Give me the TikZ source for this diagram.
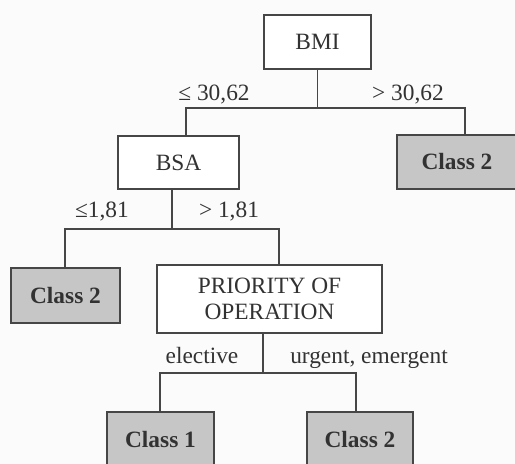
\documentclass[tikz,border=0pt]{standalone}
\usepackage{fontspec}
\setmainfont{Liberation Serif}
\usepackage{tikz}

\definecolor{boxgray}{RGB}{198,198,198}
\definecolor{linegray}{RGB}{70,70,70}
\definecolor{inkgray}{RGB}{50,50,50}
\definecolor{paper}{RGB}{251,251,251}
\newcommand{\pxu}{0.02cm}

\tikzset{
  test/.style={draw=linegray,line width=0.8pt,fill=white,text=inkgray,align=center,inner sep=0pt},
  leaf/.style={draw=linegray,line width=0.8pt,fill=boxgray,text=inkgray,font=\fontsize{13.3}{14.5}\selectfont\bfseries,inner sep=0pt},
  cond/.style={text=inkgray,anchor=base,inner sep=0pt},
  tree/.style={draw=linegray,line width=0.8pt},
  wh/.style 2 args={minimum width=#1*\pxu,minimum height=#2*\pxu}
}

\begin{document}
\begin{tikzpicture}[x=0.02cm,y=-0.02cm,font=\fontsize{13.3}{14.5}\selectfont]
\clip (0,0) rectangle (515,464);
\fill[paper] (0,0) rectangle (515,464);
\node[test,wh={107}{54}] (bmi) at (317.5,42) {BMI};
\node[test,wh={121}{53}] (bsa) at (178.5,162.5) {BSA};
\node[leaf,wh={120}{54}] (cright) at (457,162) {Class 2};
\node[leaf,wh={109}{55}] (cleft) at (65.5,295.5) {Class 2};
\node[test,wh={225}{68}] (prio) at (269.5,299) {PRIORITY OF\\OPERATION};
\node[leaf,wh={107}{55}] (cone) at (160.5,439.5) {Class 1};
\node[leaf,wh={106}{55}] (ctwo) at (360,439.5) {Class 2};
\node[cond] (le1) at (214,100) {≤ 30,62};
\node[cond] (gt1) at (408,100) {> 30,62};
\node[cond] (le2) at (102,217) {≤1,81};
\node[cond] (gt2) at (229,217) {> 1,81};
\node[cond] (elec) at (202,363) {elective};
\node[cond] (urg) at (369,363) {urgent, emergent};
\coordinate (k1) at (186,108);
\coordinate (k2) at (465,108);
\coordinate (m0) at (172,229);
\coordinate (m1) at (65,229);
\coordinate (m2) at (279,229);
\coordinate (n0) at (263,373);
\coordinate (n1) at (160,373);
\coordinate (n2) at (356,373);
\draw[tree] (bmi.south) -- (bmi.south |- k1);
\draw[tree] (k1 |- bsa.north) -- (k1) -- (k2) -- (k2 |- cright.north);
\draw[tree] (m0 |- bsa.south) -- (m0);
\draw[tree] (m1 |- cleft.north) -- (m1) -- (m2) -- (m2 |- prio.north);
\draw[tree] (n0 |- prio.south) -- (n0);
\draw[tree] (n1 |- cone.north) -- (n1) -- (n2) -- (n2 |- ctwo.north);
\end{tikzpicture}
\end{document}
